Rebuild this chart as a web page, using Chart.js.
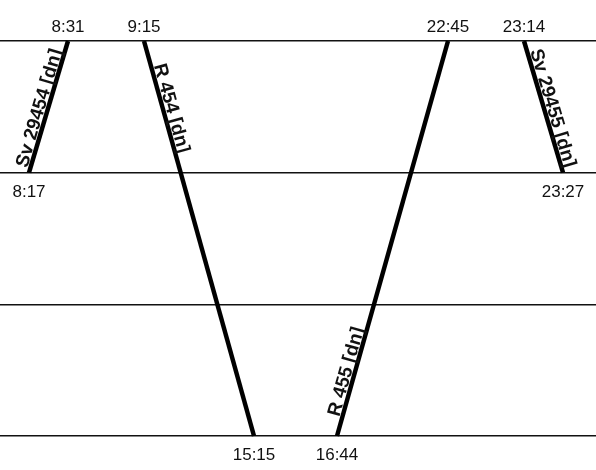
<!DOCTYPE html>
<html>
<head>
<meta charset="utf-8">
<script src="https://cdn.jsdelivr.net/npm/chart.js@4.4.1/dist/chart.umd.min.js"></script>
<style>
  html,body{margin:0;padding:0;background:#fff;}
  #wrap{width:596px;height:470px;position:relative;}
</style>
</head>
<body>
<div id="wrap"><canvas id="graf"></canvas></div>
<script>
// ===================== DATA =====================
// stations: 0 = top line, 3 = bottom line
const stations   = [0, 1, 2, 3];
const trainNames = ['Sv 29454 [dn]', 'R 454 [dn]', 'R 455 [dn]', 'Sv 29455 [dn]'];
// schematic position along the diagram (start, end)
const trainPos   = [[29, 68], [144, 254], [337, 448], [524, 563]];
// station index (start, end)
const trainSta   = [[1, 0], [0, 3], [3, 0], [0, 1]];
// times (departure, arrival)
const trainTimes = [['8:17', '8:31'], ['9:15', '15:15'], ['16:44', '22:45'], ['23:14', '23:27']];

const FONT = '"Liberation Sans", Arial, sans-serif';

// ===================== PLUGIN: times + train names =====================
const trainLabels = {
  id: 'trainLabels',
  afterDatasetsDraw(chart){
    const {ctx, scales:{x, y}} = chart;
    const topPx = y.getPixelForValue(stations[0]);
    ctx.save();
    ctx.fillStyle = '#111';

    trainNames.forEach((name, i)=>{
      const x0 = x.getPixelForValue(trainPos[i][0]), y0 = y.getPixelForValue(trainSta[i][0]);
      const x1 = x.getPixelForValue(trainPos[i][1]), y1 = y.getPixelForValue(trainSta[i][1]);

      // times at both ends
      ctx.font = '17px ' + FONT;
      ctx.textAlign = 'center';
      ctx.textBaseline = 'alphabetic';
      [[x0, y0, trainTimes[i][0]], [x1, y1, trainTimes[i][1]]].forEach(([px, py, t])=>{
        const by = Math.abs(py - topPx) < 1 ? py - 9 : py + 24;
        ctx.fillText(t, px, by);
      });

      // name along the line, centred on the first section
      const steps = Math.abs(trainSta[i][1] - trainSta[i][0]);
      const f = 0.5 / steps;
      const cx = x0 + (x1 - x0) * f, cy = y0 + (y1 - y0) * f + 4;
      const ang = Math.atan2(y1 - y0, x1 - x0);
      ctx.save();
      ctx.translate(cx, cy);
      ctx.rotate(ang);
      ctx.font = 'bold 19px ' + FONT;
      ctx.textAlign = 'center';
      ctx.textBaseline = 'alphabetic';
      ctx.fillText(name, 0, -4);
      ctx.restore();
    });
    ctx.restore();
  }
};

// ===================== CHART =====================
const datasets = trainNames.map((name, i)=>({
  label: name,
  data: [
    {x: trainPos[i][0], y: trainSta[i][0]},
    {x: trainPos[i][1], y: trainSta[i][1]}
  ],
  showLine: true,
  borderColor: '#000',
  borderWidth: 4.5,
  pointRadius: 0,
  pointHoverRadius: 0,
  clip: false,
  tension: 0
}));

new Chart(document.getElementById('graf').getContext('2d'), {
  type: 'scatter',
  data: {datasets},
  options: {
    responsive: true,
    maintainAspectRatio: false,
    animation: false,
    layout: {padding: {top: 41, bottom: 34, left: 0, right: 0}},
    plugins: {legend: {display: false}, tooltip: {enabled: false}},
    scales: {
      x: {type: 'linear', min: 0, max: 596, display: false},
      y: {
        type: 'linear', min: 0, max: 3, reverse: true,
        ticks: {display: false, stepSize: 1},
        grid: {color: '#111', lineWidth: 1.5, drawTicks: false},
        border: {display: false}
      }
    }
  },
  plugins: [trainLabels]
});
</script>
</body>
</html>
